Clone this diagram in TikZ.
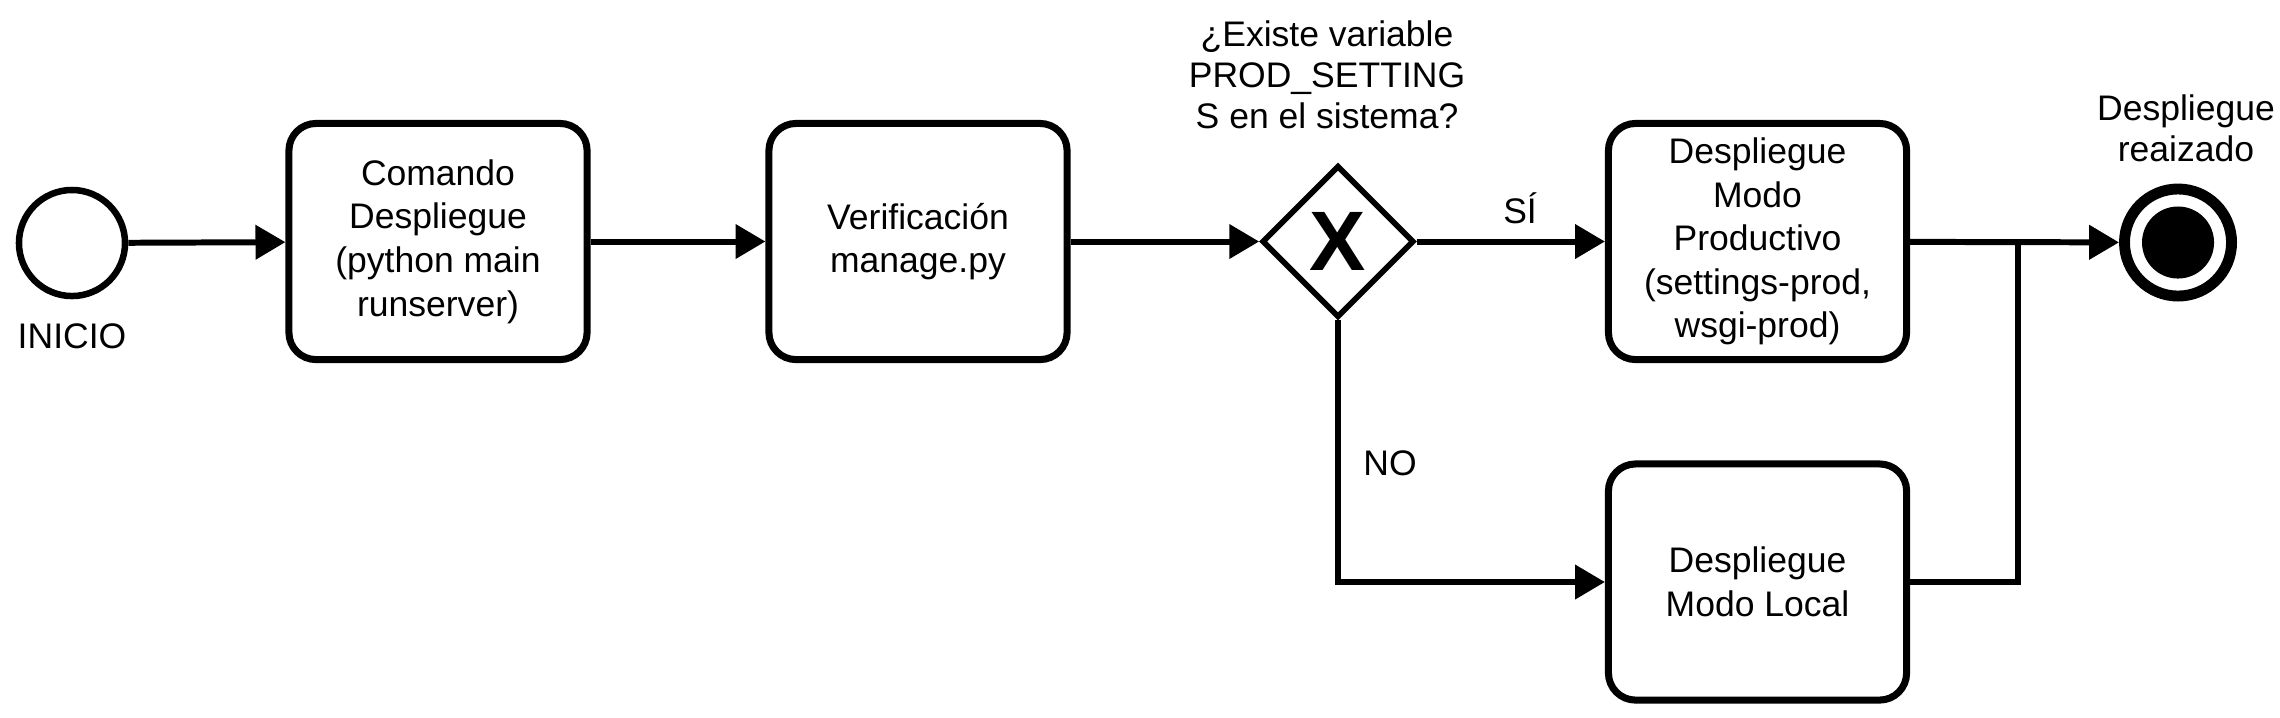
\documentclass[tikz,border=0pt]{standalone}
\usepackage{fontspec}
\setmainfont{Liberation Sans}
\usetikzlibrary{shapes.geometric, arrows.meta, calc}

\begin{document}
\begin{tikzpicture}[x=0.01cm, y=-0.01cm,
  task/.style={draw, line width=2pt, rounded corners=7.7pt, minimum width=2.98cm, minimum height=2.36cm, align=center, inner sep=0pt, font=\fontsize{10.1}{12.4}\selectfont},
  gateway/.style={draw, diamond, line width=1.6pt, minimum width=1.52cm, minimum height=1.52cm, inner sep=0pt},
  startev/.style={draw, circle, line width=1.85pt, minimum size=1.06cm, inner sep=0pt},
  endev/.style={draw, circle, line width=3.1pt, minimum size=1.07cm, inner sep=0pt},
  flow/.style={line width=1.7pt, -{Triangle[length=8.5pt, width=9.5pt]}},
  lbl/.style={align=center, inner sep=0pt, font=\fontsize{10.1}{11.6}\selectfont}]
  \useasboundingbox (0,0) rectangle (2280,717);

  % events and tasks
  \node[startev] (inicio) at (72,243) {};
  \node[lbl] (inicioTxt) at (72,336) {INICIO};
  \node[task] (comando) at (438,241.5) {Comando\\Despliegue\\(python main\\runserver)};
  \node[task] (verif) at (918,241.5) {Verificación\\manage.py};
  \node[gateway] (gw) at (1338,241.5) {\fontsize{24}{24}\selectfont\bfseries X};
  \node[lbl] (pregunta) at (1327,75) {¿Existe variable\\PROD\_SETTING\\S en el sistema?};
  \node[task] (prod) at (1757.5,241.5) {Despliegue\\Modo\\Productivo\\(settings-prod,\\wsgi-prod)};
  \node[task] (local) at (1757.5,582) {Despliegue\\Modo Local};
  \node[endev] (fin) at (2178,242.5) {};
  \node[circle, fill, minimum size=0.72cm, inner sep=0pt] (finPunto) at (fin) {};
  \node[lbl] (finTxt) at (2186,128) {Despliegue\\reaizado};

  % flows
  \coordinate (junta) at (2018,241.5);
  \draw[flow] (inicio) -- (comando);
  \draw[flow] (comando) -- (verif);
  \draw[flow] (verif) -- (gw);
  \draw[flow] (gw) -- (prod);
  \node[lbl] (si) at (1520,208) {SÍ};
  \draw[flow] (gw.south) |- (local.west);
  \node[lbl] (no) at (1390,463) {NO};
  \draw[flow] (prod) -- (fin);
  \draw[line width=1.7pt] (local.east) -| (junta);
\end{tikzpicture}
\end{document}
